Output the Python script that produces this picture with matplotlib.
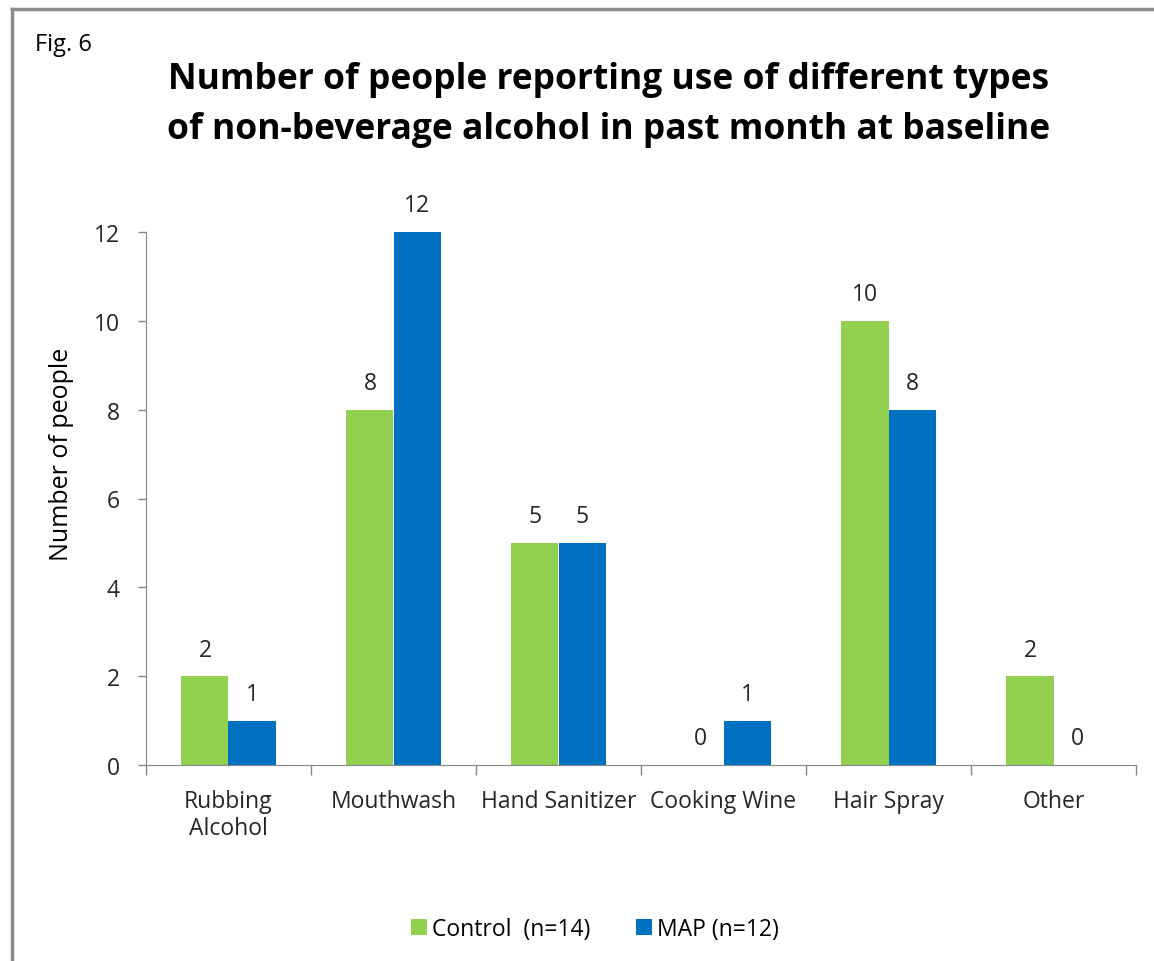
import numpy as np
import matplotlib.pyplot as plt
from matplotlib.lines import Line2D

categories = ["Rubbing\nAlcohol", "Mouthwash", "Hand Sanitizer", "Cooking Wine", "Hair Spray", "Other"]
control = [2, 8, 5, 0, 10, 2]
map_grp = [1, 12, 5, 1, 8, 0]
series_names = ["Control  (n=14)", "MAP (n=12)"]

green = "#92d050"
blue = "#0070c0"
axis_gray = "#868686"
plt.rcParams['font.family'] = ['Open Sans', 'DejaVu Sans']

fig = plt.figure(figsize=(11.54, 9.62), dpi=100)
W, H = 1154, 962
ax = fig.add_axes([146 / W, 1 - 766 / H, (1136 - 146) / W, (766 - 233) / H])

x = np.arange(len(categories))
w = 0.285
b1 = ax.bar(x - w / 2, control, w, color=green, label=series_names[0])
b2 = ax.bar(x + w / 2, map_grp, w, color=blue, label=series_names[1])

for bars, vals in ((b1, control), (b2, map_grp)):
    for r, v in zip(bars, vals):
        ax.text(r.get_x() + r.get_width() / 2, v + 0.6, str(v), ha='center', va='center',
                fontsize=16.5, color='#262626')

ax.set_xlim(-0.5, len(categories) - 0.5)
ax.set_ylim(0, 12)
ax.set_yticks(range(0, 13, 2))
ax.tick_params(axis='y', labelsize=16.5, colors='#262626', length=6, width=1, pad=13)
ax.tick_params(axis='y', color=axis_gray)
ax.set_xticks(x)
ax.set_xticklabels(categories, fontsize=16.5, color='#262626', linespacing=1.2)
ax.tick_params(axis='x', length=0, pad=17)
# tick marks between categories
ax.set_xticks(np.arange(-0.5, len(categories)), minor=True)
ax.tick_params(axis='x', which='minor', length=7, color=axis_gray, width=1)

for s in ('top', 'right'):
    ax.spines[s].set_visible(False)
for s in ('left', 'bottom'):
    ax.spines[s].set_color(axis_gray)

ax.set_ylabel("Number of people", fontsize=18, color='black')
ax.yaxis.set_label_coords(-0.073, 0.584)

fig.text(35 / W, 1 - 45 / H, "Fig. 6", fontsize=17, ha='left', va='center')
fig.text(609 / W, 1 - 105 / H,
         "Number of people reporting use of different types\nof non-beverage alcohol in past month at baseline",
         fontsize=25.5, fontweight='bold', ha='center', va='center', linespacing=1.5)

fig.legend(handles=[b1, b2], loc='center', bbox_to_anchor=(595 / W, 1 - 930 / H), ncol=2,
           frameon=False, fontsize=16.5, handlelength=0.7, handleheight=0.7, handletextpad=0.2,
           columnspacing=2.0)

# outer frame
fig.add_artist(Line2D([12 / W, 1], [1 - 10 / H, 1 - 10 / H], color='#8c8c8c', lw=2.5,
                      transform=fig.transFigure))
fig.add_artist(Line2D([12 / W, 12 / W], [0, 1 - 10 / H], color='#8c8c8c', lw=2.5,
                      transform=fig.transFigure))

fig.savefig("out.png", dpi=100)
